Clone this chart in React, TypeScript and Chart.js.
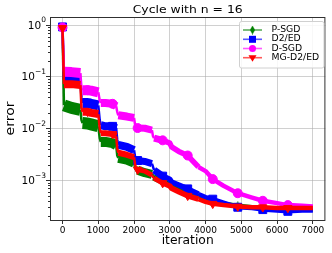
import React, { useEffect, useRef } from 'react';
import { Chart, registerables } from 'chart.js';

Chart.register(...registerables);

const TITLE = 'Cycle with n = 16';
const X_LABEL = 'iteration';
const Y_LABEL = 'error';
const SERIES_NAMES = ['P-SGD', 'D2/ED', 'D-SGD', 'MG-D2/ED'];

const ITER = [0, 40, 250, 500, 530, 560, 700, 800, 1000, 1040,
  1070, 1200, 1400, 1500, 1530, 1560, 1800, 2000, 2030, 2060,
  2100, 2300, 2500, 2530, 2560, 2800, 3000, 3050, 3250, 3500,
  3800, 4000, 4200, 4500, 4900, 5300, 5600, 6000, 6300, 6700,
  7000];

const P_SGD = [0.9, 0.028, 0.025, 0.023, 0.0145, 0.0127, 0.0125, 0.012, 0.011, 0.0065,
  0.0055, 0.0055, 0.0052, 0.0048, 0.003, 0.0027, 0.0025, 0.0022, 0.0017, 0.00158,
  0.00156, 0.0014, 0.0013, 0.00125, 0.0012, 0.001, 0.00088, 0.00082, 0.0007, 0.00059,
  0.00049, 0.00043, 0.0004, 0.00035, 0.00032, 0.0003, 0.00029, 0.00028, 0.00027, 0.00027,
  0.00027];

const D2_ED = [0.92, 0.092, 0.09, 0.088, 0.039, 0.031, 0.031, 0.03, 0.028, 0.0145,
  0.0116, 0.011, 0.011, 0.0102, 0.006, 0.0048, 0.0044, 0.0038, 0.0028, 0.0024,
  0.0024, 0.0023, 0.0021, 0.0018, 0.00156, 0.0012, 0.00104, 0.00092, 0.00081, 0.00068,
  0.00054, 0.00047, 0.00043, 0.00037, 0.0003, 0.00029, 0.00027, 0.00026, 0.00025, 0.00026,
  0.00026];

const D_SGD = [0.9, 0.125, 0.123, 0.118, 0.06, 0.055, 0.055, 0.054, 0.05, 0.035,
  0.031, 0.031, 0.03, 0.027, 0.021, 0.018, 0.017, 0.016, 0.0116, 0.0102,
  0.0102, 0.0101, 0.0093, 0.0071, 0.0065, 0.0059, 0.0052, 0.0044, 0.0036, 0.003,
  0.0018, 0.0015, 0.00105, 0.00078, 0.00056, 0.00046, 0.0004, 0.00036, 0.00033, 0.00032,
  0.00031];

const MG_D2_ED = [0.88, 0.072, 0.072, 0.069, 0.025, 0.021, 0.021, 0.02, 0.019, 0.0101,
  0.0081, 0.0081, 0.0078, 0.0071, 0.0042, 0.0034, 0.0031, 0.0028, 0.002, 0.0017,
  0.0016, 0.0015, 0.00125, 0.00115, 0.0011, 0.00088, 0.00077, 0.0007, 0.0006, 0.0005,
  0.00043, 0.00038, 0.00035, 0.00033, 0.00031, 0.0003, 0.0003, 0.00029, 0.00029, 0.00029,
  0.00029];

const MARKER_ITERS = [0, 700, 1400, 2100, 2800, 3500, 4200, 4900, 5600, 6300];
const X_TICKS = [0, 1000, 2000, 3000, 4000, 5000, 6000, 7000];
const Y_TICK_EXPONENTS = [0, -1, -2, -3];

const GREEN = '#008000';
const BLUE = '#0000ff';
const MAGENTA = '#ff00ff';
const RED = '#ff0000';
const FONT = '"DejaVu Sans", sans-serif';

function makeDiamond(color: string, w: number, h: number) {
  const c = document.createElement('canvas');
  c.width = w;
  c.height = h;
  const g = c.getContext('2d')!;
  g.fillStyle = color;
  g.beginPath();
  g.moveTo(w / 2, 0);
  g.lineTo(w, h / 2);
  g.lineTo(w / 2, h);
  g.lineTo(0, h / 2);
  g.closePath();
  g.fill();
  return c;
}

function bandWidth(x0: number, x1: number, big: number) {
  if (x1 - x0 <= 50 && x0 < 2600) return 2.5;
  if (x0 < 1000) return big;
  if (x0 < 2000) return big - 2;
  if (x0 < 2600) return big - 3;
  if (x0 < 3600) return 5.5;
  return 4.5;
}

function drawFitText(ctx: CanvasRenderingContext2D, text: string, x: number, y: number, size: number,
  targetW: number, align: CanvasTextAlign, rotate = 0) {
  ctx.save();
  ctx.font = `${size}px ${FONT}`;
  const w = ctx.measureText(text).width;
  const sx = targetW > 0 ? targetW / w : 1;
  ctx.translate(x, y);
  if (rotate) ctx.rotate(rotate);
  ctx.scale(sx, 1);
  ctx.textAlign = align;
  ctx.textBaseline = 'middle';
  ctx.fillStyle = '#000';
  ctx.fillText(text, 0, 0);
  ctx.restore();
}

export default function App() {
  const ref = useRef<HTMLCanvasElement | null>(null);

  useEffect(() => {
    const canvas = ref.current;
    if (!canvas) return;
    const diamond = makeDiamond(GREEN, 5, 9);
    const markerR = (r: number) => (c: any) => (MARKER_ITERS.includes(ITER[c.dataIndex]) ? r : 0);
    const seg = (big: number) => ({
      borderWidth: (c: any) => bandWidth(c.p0.parsed.x, c.p1.parsed.x, big),
    });
    const mk = (vals: number[]) => ITER.map((x, i) => ({ x, y: vals[i] }));

    const decor = {
      id: 'decor',
      afterDraw(chart: any) {
        const ctx: CanvasRenderingContext2D = chart.ctx;
        const a = chart.chartArea;
        const ys = chart.scales.y;
        ctx.save();
        // spines
        ctx.strokeStyle = '#303030';
        ctx.lineWidth = 1;
        ctx.strokeRect(a.left + 0.5, a.top + 0.5, a.right - a.left - 1, a.bottom - a.top);
        // minor ticks
        for (let e = -4; e <= 0; e++) {
          for (let m = 2; m <= 9; m++) {
            const v = m * Math.pow(10, e);
            if (v <= ys.min || v >= ys.max) continue;
            const py = Math.round(ys.getPixelForValue(v)) + 0.5;
            ctx.beginPath();
            ctx.moveTo(a.left - 2, py);
            ctx.lineTo(a.left, py);
            ctx.stroke();
          }
        }
        // y tick labels 10^k
        ctx.fillStyle = '#000';
        ctx.textBaseline = 'middle';
        for (const e of Y_TICK_EXPONENTS) {
          const py = ys.getPixelForValue(Math.pow(10, e));
          const exp = e < 0 ? '\u2212' + String(-e) : String(e);
          ctx.font = `7.5px ${FONT}`;
          const we = ctx.measureText(exp).width;
          ctx.font = `10.5px ${FONT}`;
          const wb = ctx.measureText('10').width;
          const right = 46;
          ctx.textAlign = 'left';
          ctx.fillText('10', right - we - wb, py + 1);
          ctx.font = `7.5px ${FONT}`;
          ctx.fillText(exp, right - we, py - 4.5);
        }
        // title and axis labels
        const cx = (a.left + a.right) / 2;
        drawFitText(ctx, TITLE, cx, 10, 11, 110, 'center');
        drawFitText(ctx, X_LABEL, cx, 241, 12, 52, 'center');
        drawFitText(ctx, Y_LABEL, 11, (a.top + a.bottom) / 2, 12, 34, 'center', -Math.PI / 2);
        // legend
        const lx = 239.5, ly = 21.5, lw = 84.5, lh = 46.5;
        ctx.beginPath();
        ctx.roundRect(lx, ly, lw, lh, 2);
        ctx.fillStyle = 'rgba(255,255,255,0.85)';
        ctx.fill();
        ctx.strokeStyle = '#d0d0d0';
        ctx.lineWidth = 1;
        ctx.stroke();
        ctx.font = `8px ${FONT}`;
        const sx = 47.7 / ctx.measureText(SERIES_NAMES[3]).width;
        const colors = [GREEN, BLUE, MAGENTA, RED];
        const rowsY = [30, 39.3, 48.5, 57.7];
        for (let i = 0; i < 4; i++) {
          const yy = rowsY[i];
          ctx.save();
          ctx.globalAlpha = 0.65;
          ctx.strokeStyle = colors[i];
          ctx.lineWidth = 1.6;
          ctx.beginPath();
          ctx.moveTo(243, yy);
          ctx.lineTo(262, yy);
          ctx.stroke();
          ctx.restore();
          const mx = 252.5;
          ctx.fillStyle = colors[i];
          ctx.beginPath();
          if (i === 0) {
            ctx.drawImage(diamond, mx - 2.5, yy - 4.5);
          } else if (i === 1) {
            ctx.fillRect(mx - 3.5, yy - 3.5, 7, 7);
          } else if (i === 2) {
            ctx.arc(mx, yy, 3.5, 0, Math.PI * 2);
            ctx.fill();
          } else {
            ctx.moveTo(mx - 4, yy - 2.5);
            ctx.lineTo(mx + 4, yy - 2.5);
            ctx.lineTo(mx, yy + 4);
            ctx.closePath();
            ctx.fill();
          }
          ctx.save();
          ctx.translate(271.5, yy);
          ctx.scale(sx, 1);
          ctx.font = `8px ${FONT}`;
          ctx.fillStyle = '#000';
          ctx.textAlign = 'left';
          ctx.textBaseline = 'middle';
          ctx.fillText(SERIES_NAMES[i], 0, 0);
          ctx.restore();
        }
        ctx.restore();
      },
    };

    const chart = new Chart(canvas, {
      type: 'line',
      data: {
        datasets: [
          {
            label: SERIES_NAMES[0], data: mk(P_SGD), borderColor: GREEN, backgroundColor: GREEN,
            pointStyle: diamond as any, pointRadius: markerR(4), order: 4,
            segment: seg(12), borderCapStyle: 'butt', borderJoinStyle: 'round', fill: false,
          },
          {
            label: SERIES_NAMES[1], data: mk(D2_ED), borderColor: BLUE, backgroundColor: BLUE,
            pointStyle: 'rect', pointRadius: markerR(5.6), pointBorderWidth: 1, order: 3,
            segment: seg(10), borderCapStyle: 'butt', borderJoinStyle: 'round', fill: false,
          },
          {
            label: SERIES_NAMES[2], data: mk(D_SGD), borderColor: MAGENTA, backgroundColor: MAGENTA,
            pointStyle: 'circle', pointRadius: markerR(4.5), pointBorderWidth: 1, order: 2,
            segment: seg(10), borderCapStyle: 'butt', borderJoinStyle: 'round', fill: false,
          },
          {
            label: SERIES_NAMES[3], data: mk(MG_D2_ED), borderColor: RED, backgroundColor: RED,
            pointStyle: 'triangle', pointRotation: 180, pointRadius: markerR(4.8), pointBorderWidth: 1, order: 1,
            segment: seg(8), borderCapStyle: 'butt', borderJoinStyle: 'round', fill: false,
          },
        ] as any,
      },
      options: {
        animation: false,
        responsive: false,
        devicePixelRatio: 1,
        layout: { padding: { top: 17, right: 4, left: 0, bottom: 0 } },
        plugins: { legend: { display: false }, title: { display: false }, tooltip: { enabled: false } },
        scales: {
          x: {
            type: 'linear', min: -350, max: 7350,
            afterBuildTicks: (s: any) => { s.ticks = X_TICKS.map((v) => ({ value: v })); },
            afterFit: (s: any) => { s.height = 33; },
            ticks: {
              callback: (v: any) => String(v), color: '#000', padding: 1, maxRotation: 0,
              font: { family: FONT, size: 9 },
            },
            grid: { color: 'rgba(170,170,170,0.55)', tickColor: '#303030', tickLength: 4, lineWidth: 1 },
            border: { display: false },
          },
          y: {
            type: 'logarithmic', min: 1.7e-4, max: 1.43,
            afterBuildTicks: (s: any) => { s.ticks = Y_TICK_EXPONENTS.map((e) => ({ value: Math.pow(10, e) })); },
            afterFit: (s: any) => { s.width = 50; },
            ticks: { display: false },
            grid: { color: 'rgba(170,170,170,0.55)', tickColor: '#303030', tickLength: 4, lineWidth: 1 },
            border: { display: false },
          },
        },
      } as any,
      plugins: [decor],
    });
    return () => chart.destroy();
  }, []);

  return (
    <div style={{ position: 'absolute', left: 0, top: 0, width: 332, height: 253, background: '#fff' }}>
      <canvas ref={ref} width={332} height={253} style={{ display: 'block', width: 332, height: 253 }} />
    </div>
  );
}
